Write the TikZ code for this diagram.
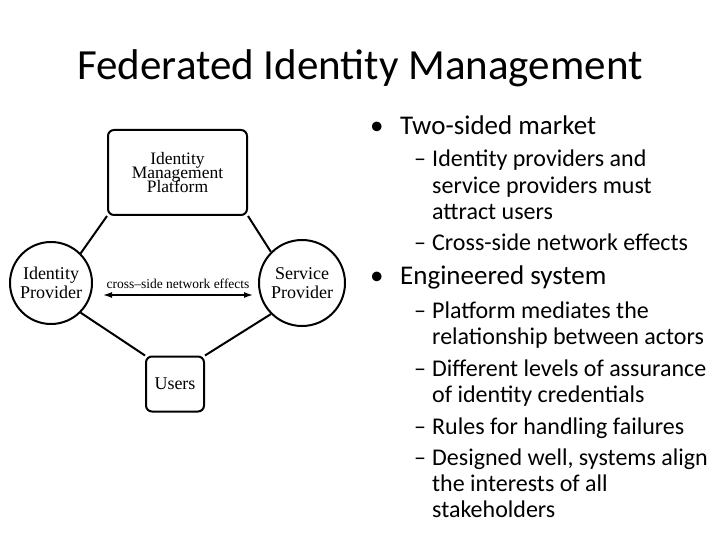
\documentclass[tikz,border=0pt]{standalone}
\usepackage{fontspec}
\setmainfont{Carlito}
\newfontfamily\diag{Liberation Serif}
\usetikzlibrary{arrows.meta}
\begin{document}
\begin{tikzpicture}[x=1pt,y=-1pt,
  rbox/.style={draw,line width=2pt,rounded corners=6pt,align=center,font=\diag\fontsize{17.5}{15}\selectfont},
  circ/.style={draw,circle,line width=2pt,align=center,font=\diag\fontsize{18}{19}\selectfont,inner sep=0pt},
  link/.style={line width=2pt},
  txt/.style={anchor=base west,align=left,inner sep=0pt}]
\useasboundingbox (0,0) rectangle (720,540);
\node[font=\fontsize{43}{48}\selectfont,anchor=base] (title) at (360,80) {Federated Identity Management};
\node[rbox,minimum width=139pt,minimum height=85pt] (plat) at (177.5,172.5) {Identity\\[-3pt]Management\\[-3pt]Platform};
\node[circ,minimum size=82pt] (idp) at (51,283) {Identity\\Provider};
\node[circ,minimum size=86pt] (sp) at (302,283) {Service\\Provider};
\node[rbox,minimum width=58pt,minimum height=55pt,font=\diag\fontsize{18}{19}\selectfont] (users) at (175,384) {Users};
\draw[link] (plat.south west) -- (idp.north east);
\draw[link] (plat.south east) -- (sp.north west);
\draw[link] (idp.south east) -- (users.north west);
\draw[link] (users.north east) -- (sp.south west);
\coordinate (a) at (103,295);
\coordinate (b) at (253,295);
\draw[line width=1.4pt,{Latex[length=9pt,width=6pt]}-{Latex[length=9pt,width=6pt]}] (a) -- (b);
\node[font=\diag\fontsize{13.5}{14}\selectfont] (cl) at (178,284) {cross\textendash side network effects};
\begin{scope}[font=\fontsize{27}{30}\selectfont]
\node[txt] (b1d) at (370,135) {•};
\node[txt] (b1) at (400,135) {Two-sided market};
\node[txt] (b2d) at (370,284) {•};
\node[txt] (b2) at (400,284) {Engineered system};
\end{scope}
\begin{scope}[font=\fontsize{24}{26}\selectfont]
\node[txt] (d1) at (414,167) {–};
\node[txt] (s1) at (432,219) {Identity providers and\\service providers must\\attract users};
\node[txt] (d2) at (414,250) {–};
\node[txt] (s2) at (432,250) {Cross-side network effects};
\node[txt] (d3) at (414,318) {–};
\node[txt] (s3) at (432,344) {Platform mediates the\\relationship between actors};
\node[txt] (d4) at (414,376) {–};
\node[txt] (s4) at (432,402) {Different levels of assurance\\of identity credentials};
\node[txt] (d5) at (414,434) {–};
\node[txt] (s5) at (432,434) {Rules for handling failures};
\node[txt] (d6) at (414,465) {–};
\node[txt] (s6) at (432,517) {Designed well, systems align\\the interests of all\\stakeholders};
\end{scope}
\end{tikzpicture}
\end{document}
